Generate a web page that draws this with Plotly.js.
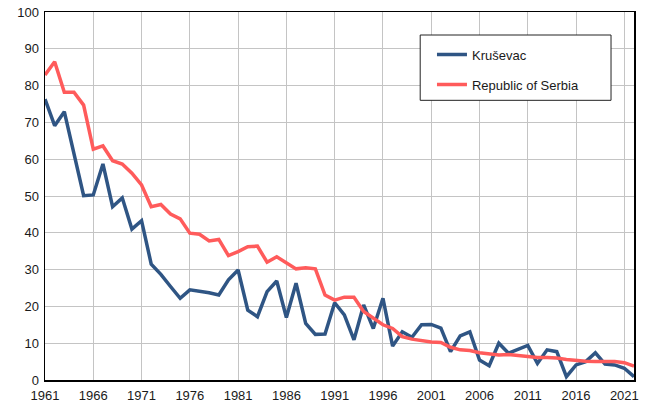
<!DOCTYPE html>
<html>
<head>
<meta charset="utf-8">
<script src="https://cdn.plot.ly/plotly-3.0.1.min.js"></script>
<style>html,body{margin:0;padding:0;background:#fff;}#chart{width:645px;height:410px;}</style>
</head>
<body>
<div id="chart"></div>
<script>
const years = [1961,1962,1963,1964,1965,1966,1967,1968,1969,1970,1971,1972,1973,1974,1975,1976,1977,1978,1979,1980,1981,1982,1983,1984,1985,1986,1987,1988,1989,1990,1991,1992,1993,1994,1995,1996,1997,1998,1999,2000,2001,2002,2003,2004,2005,2006,2007,2008,2009,2010,2011,2012,2013,2014,2015,2016,2017,2018,2019,2020,2021,2022];
const krusevac = [76.3,69.1,72.9,61.6,50.1,50.3,58.7,47.1,49.5,41.0,43.3,31.5,28.7,25.4,22.2,24.5,24.2,23.7,23.1,27.2,29.9,19.0,17.2,24.0,26.9,17.0,26.3,15.4,12.4,12.5,21.0,17.7,10.9,20.4,14.0,22.2,9.2,13.1,11.6,15.0,15.1,14.1,7.7,12.0,13.1,5.4,3.9,10.0,7.3,8.4,9.4,4.5,8.2,7.7,0.9,4.1,5.0,7.4,4.3,4.1,3.2,0.9];
const serbia = [82.9,86.5,78.2,78.2,74.7,62.7,63.6,59.6,58.7,56.2,53.0,47.1,47.7,45.1,43.8,39.9,39.6,37.8,38.2,33.8,34.9,36.2,36.4,32.0,33.5,31.9,30.2,30.5,30.2,23.1,21.7,22.5,22.5,18.6,16.8,15.0,14.0,11.8,11.1,10.7,10.3,10.2,8.9,8.2,8.0,7.4,7.1,6.8,6.9,6.6,6.2,6.1,6.1,6.0,5.6,5.3,5.1,5.0,5.0,5.0,4.7,3.8];
const xTicks = [1961,1966,1971,1976,1981,1986,1991,1996,2001,2006,2011,2016,2021];
const yTicks = [0,10,20,30,40,50,60,70,80,90,100];

const font = {family: 'Arimo, "Liberation Sans", Arial, sans-serif', size: 13, color: '#1a1a1a'};

const traces = [
  {x: years, y: krusevac, name: 'Kruševac', type: 'scatter', mode: 'lines',
   line: {color: '#2F5584', width: 3.5}, legendgroup: 'a'},
  {x: years, y: serbia, name: 'Republic of Serbia', type: 'scatter', mode: 'lines',
   line: {color: '#FF5B5B', width: 3.5}, legendgroup: 'b'}
];

const layout = {
  width: 645, height: 410,
  margin: {l: 45, r: 11, t: 12, b: 30},
  paper_bgcolor: '#fff', plot_bgcolor: '#fff',
  font: font,
  showlegend: true,
  legend: {x: 0.657, y: 0.925, xanchor: 'left', yanchor: 'top', bgcolor: 'rgba(0,0,0,0)',
           borderwidth: 0, font: font, tracegroupgap: 10, itemwidth: 30},
  xaxis: {range: [1961, 2022], tickmode: 'array', tickvals: xTicks, ticktext: xTicks.map(String),
          showgrid: true, gridcolor: '#c4c4c4', gridwidth: 1, zeroline: false,
          showline: true, linecolor: '#000', linewidth: 1.5, mirror: true,
          ticks: '', tickfont: font, ticklabelstandoff: 3},
  yaxis: {range: [0, 100], tickmode: 'array', tickvals: yTicks,
          showgrid: true, gridcolor: '#c4c4c4', gridwidth: 1, zeroline: false,
          showline: true, linecolor: '#000', linewidth: 1.5, mirror: true,
          ticks: '', tickfont: font, ticklabelstandoff: 2},
  shapes: [
    {type: 'rect', xref: 'paper', yref: 'paper', x0: 0.637, x1: 0.961, y0: 0.76, y1: 0.9375,
     line: {color: '#222', width: 1}, fillcolor: 'rgba(255,255,255,1)', layer: 'above'}
  ]
};

Plotly.newPlot('chart', traces, layout, {staticPlot: true, displayModeBar: false});
</script>
</body>
</html>
